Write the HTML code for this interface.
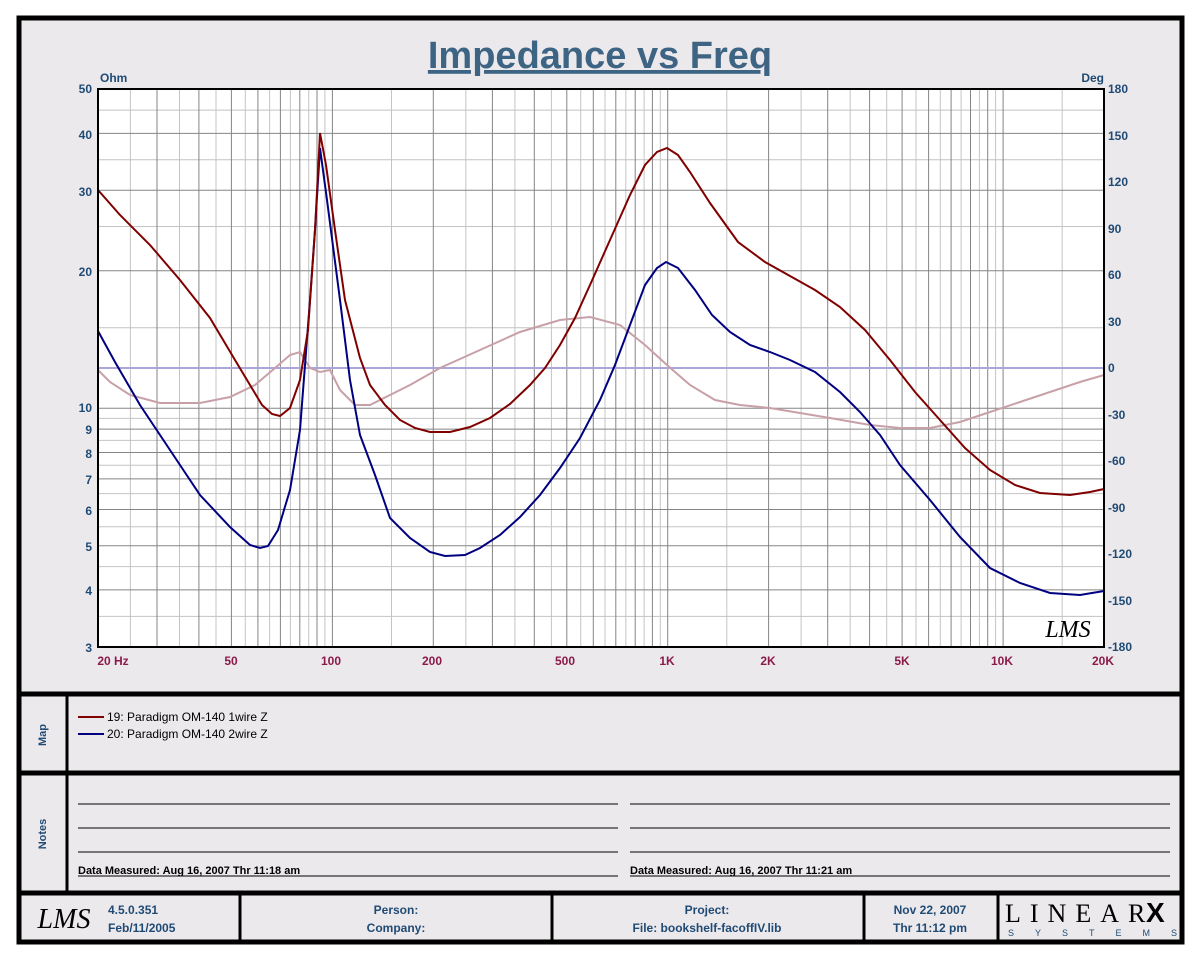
<!DOCTYPE html>
<html><head><meta charset="utf-8"><style>
body{margin:0;background:#fff;}
svg{display:block;font-family:"Liberation Sans",sans-serif;}
</style></head><body>
<svg width="1200" height="960" viewBox="0 0 1200 960" xmlns="http://www.w3.org/2000/svg">
<rect x="0" y="0" width="1200" height="960" fill="#fff"/>
<rect x="19" y="18" width="1163" height="924" fill="#ece9ec" stroke="#000" stroke-width="5"/>
<line x1="19" y1="694" x2="1182" y2="694" stroke="#000" stroke-width="5"/>
<line x1="19" y1="773" x2="1182" y2="773" stroke="#000" stroke-width="5"/>
<line x1="19" y1="893" x2="1182" y2="893" stroke="#000" stroke-width="5"/>
<line x1="67" y1="694" x2="67" y2="893" stroke="#000" stroke-width="3"/>
<g stroke="#000" stroke-width="3">
<line x1="240" y1="893" x2="240" y2="942"/><line x1="552" y1="893" x2="552" y2="942"/>
<line x1="864" y1="893" x2="864" y2="942"/><line x1="998" y1="893" x2="998" y2="942"/>
</g>
<text x="600" y="68" text-anchor="middle" font-size="38" font-weight="bold" fill="#3e6484" text-decoration="underline">Impedance vs Freq</text>
<text x="100" y="82" font-size="12" font-weight="bold" fill="#1f4a74">Ohm</text>
<text x="1104" y="82" text-anchor="end" font-size="12" font-weight="bold" fill="#1f4a74">Deg</text>
<rect x="98" y="89" width="1006" height="558" fill="#fff"/>
<path fill="none" stroke="#c4c4c4" stroke-width="1" d="M130.4 89V647M179.5 89V647M216 89V647M245.3 89V647M269.6 89V647M290.4 89V647M308.7 89V647M324.9 89V647M391.5 89V647M465.8 89V647M514.9 89V647M551.4 89V647M580.7 89V647M605 89V647M625.8 89V647M644.1 89V647M660.3 89V647M726.8 89V647M801.1 89V647M850.2 89V647M886.7 89V647M916 89V647M940.3 89V647M961.1 89V647M979.4 89V647M995.6 89V647M1062.2 89V647
M98 616.4H1104M98 566.6H1104M98 526.8H1104M98 493.6H1104M98 465.3H1104M98 440.4H1104M98 418.4H1104M98 327.8H1104M98 226.5H1104M98 159.8H1104M98 110.1H1104"/>
<path fill="none" stroke="#858585" stroke-width="1" d="M157 89V647M198.9 89V647M231.4 89V647M257.9 89V647M280.4 89V647M299.8 89V647M317 89V647M332.4 89V647M433.3 89V647M492.4 89V647M534.3 89V647M566.8 89V647M593.3 89V647M615.8 89V647M635.2 89V647M652.4 89V647M667.7 89V647M768.6 89V647M827.7 89V647M869.6 89V647M902.1 89V647M928.6 89V647M951.1 89V647M970.5 89V647M987.7 89V647M1003.1 89V647
M98 589.9H1104M98 545.7H1104M98 509.5H1104M98 478.9H1104M98 452.5H1104M98 429.1H1104M98 408.2H1104M98 270.7H1104M98 190.3H1104M98 133.4H1104"/>
<line x1="98" y1="368" x2="1104" y2="368" stroke="#a9a6dc" stroke-width="2"/>
<polyline fill="none" stroke="#c8a0a8" stroke-width="2" points="98,370 110,382 130,395 160,403 200,403 230,397 255,385 275,368 290,355 300,352 310,368 320,372 330,370 340,390 355,405 370,405 390,395 410,385 440,368 480,350 520,332 560,320 590,317 620,325 645,345 667,365 690,385 715,400 740,405 770,408 800,413 830,418 870,425 900,428 930,428 960,422 990,412 1020,402 1050,392 1080,382 1104,375"/>
<polyline fill="none" stroke="#000080" stroke-width="2" points="98,331 115,362 140,405 170,450 200,495 230,527 250,545 260,548 268,546 278,530 290,490 300,430 310,300 315,230 320,148 327,200 340,300 350,380 360,435 375,475 390,518 410,538 430,552 445,556 465,555 480,548 500,535 520,517 540,495 560,468 580,438 600,400 615,365 630,325 645,285 657,268 666,262 678,268 695,290 712,315 730,332 750,345 770,352 790,360 815,372 840,392 860,412 880,435 900,465 930,500 960,537 990,568 1020,583 1050,593 1080,595 1104,591"/>
<polyline fill="none" stroke="#800000" stroke-width="2" points="98,190 120,215 150,245 180,280 210,318 235,360 250,385 262,405 272,414 280,416 290,408 300,380 308,330 315,230 320,133 326,165 335,230 345,300 360,358 370,385 385,405 400,420 415,428 430,432 450,432 470,427 490,418 510,404 530,385 545,368 560,345 575,318 590,285 610,240 630,195 645,165 657,152 667,148 678,155 690,172 710,203 738,242 765,262 790,276 815,290 840,307 865,330 890,360 915,392 940,420 965,448 990,470 1015,485 1040,493 1070,495 1090,492 1104,489"/>
<rect x="98" y="89" width="1006" height="558" fill="none" stroke="#000" stroke-width="2"/>
<text x="1068" y="637" text-anchor="middle" font-size="24" font-style="italic" font-family="Liberation Serif,serif" fill="#000">LMS</text>
<g font-size="12" font-weight="bold" fill="#1f4a74" text-anchor="end">
<text x="92" y="93">50</text><text x="92" y="139">40</text><text x="92" y="196">30</text><text x="92" y="276">20</text>
<text x="92" y="412">10</text><text x="92" y="434">9</text><text x="92" y="458">8</text><text x="92" y="484">7</text><text x="92" y="515">6</text><text x="92" y="551">5</text><text x="92" y="595">4</text><text x="92" y="652">3</text>
</g>
<g font-size="12" font-weight="bold" fill="#1f4a74">
<text x="1108" y="93">180</text><text x="1108" y="140">150</text><text x="1108" y="186">120</text><text x="1108" y="233">90</text><text x="1108" y="279">60</text><text x="1108" y="326">30</text><text x="1108" y="372">0</text><text x="1108" y="419">-30</text><text x="1108" y="465">-60</text><text x="1108" y="512">-90</text><text x="1108" y="558">-120</text><text x="1108" y="605">-150</text><text x="1108" y="651">-180</text>
</g>
<g font-size="12" font-weight="bold" fill="#8b1a4a" text-anchor="middle">
<text x="113" y="665">20  Hz</text><text x="231" y="665">50</text><text x="331" y="665">100</text><text x="432" y="665">200</text><text x="565" y="665">500</text><text x="667" y="665">1K</text><text x="768" y="665">2K</text><text x="902" y="665">5K</text><text x="1002" y="665">10K</text><text x="1103" y="665">20K</text>
</g>
<text transform="translate(46,735) rotate(-90)" text-anchor="middle" font-size="11" font-weight="bold" fill="#1f4a74">Map</text>
<text transform="translate(46,834) rotate(-90)" text-anchor="middle" font-size="11" font-weight="bold" fill="#1f4a74">Notes</text>
<line x1="78" y1="717" x2="104" y2="717" stroke="#800000" stroke-width="2"/>
<line x1="78" y1="734" x2="104" y2="734" stroke="#000080" stroke-width="2"/>
<text x="107" y="721" font-size="12" fill="#000">19: Paradigm OM-140 1wire Z</text>
<text x="107" y="738" font-size="12" fill="#000">20: Paradigm OM-140 2wire Z</text>
<g stroke="#000" stroke-width="1">
<line x1="78" y1="804" x2="618" y2="804"/><line x1="78" y1="828" x2="618" y2="828"/><line x1="78" y1="852" x2="618" y2="852"/><line x1="78" y1="876" x2="618" y2="876"/>
<line x1="630" y1="804" x2="1170" y2="804"/><line x1="630" y1="828" x2="1170" y2="828"/><line x1="630" y1="852" x2="1170" y2="852"/><line x1="630" y1="876" x2="1170" y2="876"/>
</g>
<text x="78" y="874" font-size="11" font-weight="bold" fill="#000">Data Measured: Aug 16, 2007  Thr 11:18 am</text>
<text x="630" y="874" font-size="11" font-weight="bold" fill="#000">Data Measured: Aug 16, 2007  Thr 11:21 am</text>
<text x="64" y="928" text-anchor="middle" font-size="28" font-style="italic" font-family="Liberation Serif,serif" fill="#000">LMS</text>
<g font-size="12" font-weight="bold" fill="#1f4a74">
<text x="108" y="914">4.5.0.351</text><text x="108" y="932">Feb/11/2005</text>
<text x="396" y="914" text-anchor="middle">Person:</text><text x="396" y="932" text-anchor="middle">Company:</text>
<text x="707" y="914" text-anchor="middle">Project:</text><text x="707" y="932" text-anchor="middle">File: bookshelf-facoffIV.lib</text>
<text x="930" y="914" text-anchor="middle">Nov 22, 2007</text><text x="930" y="932" text-anchor="middle">Thr 11:12 pm</text>
</g>
<text x="1005" y="922" font-size="26" font-family="Liberation Serif,serif" fill="#000" letter-spacing="9">LINEAR</text>
<text x="1146" y="922" font-size="28" font-weight="bold" fill="#000">X</text>
<text x="1008" y="936" font-size="9" fill="#1f4a74" letter-spacing="21">SYSTEMS</text>
</svg>
</body></html>
